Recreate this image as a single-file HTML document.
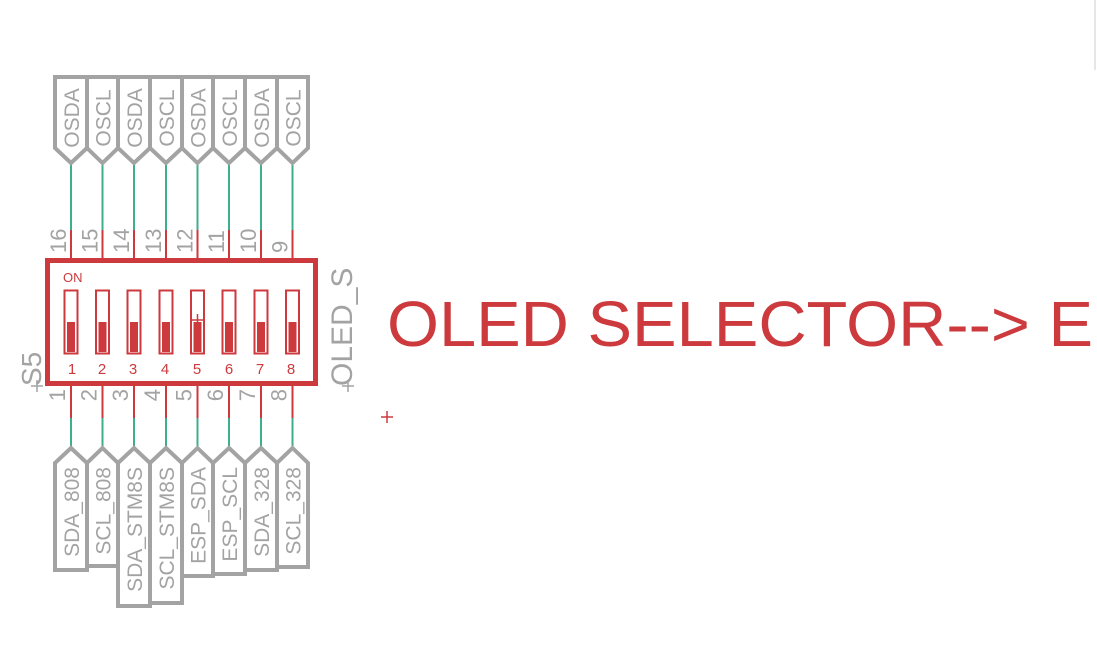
<!DOCTYPE html>
<html><head><meta charset="utf-8"><style>
html,body{margin:0;padding:0;background:#fff;}
svg{display:block;font-family:"Liberation Sans",sans-serif;}
.lb{fill:#fff;stroke:#a3a3a3;stroke-width:4;stroke-linejoin:miter}
.lt{fill:#a3a3a3;font-size:21px}
.g{stroke:#3fae8c;stroke-width:2}
.r{stroke:#cc3a3d;stroke-width:2}
.n{fill:#a3a3a3;font-size:22px}
.sw{fill:none;stroke:#cc3a3d;stroke-width:2}
.sf{fill:#cc3a3d}
.sn{fill:#cc3a3d;font-size:15px;text-anchor:middle}
</style></head><body>
<svg width="1097" height="670" viewBox="0 0 1097 670">
<line x1="1095" y1="0" x2="1095" y2="70" stroke="#ccc" stroke-width="1"/>
<g>
<line class="g" x1="71" y1="163" x2="71" y2="230"/><line class="r" x1="71" y1="230" x2="71" y2="259"/>
<line class="g" x1="102.5" y1="163" x2="102.5" y2="230"/><line class="r" x1="102.5" y1="230" x2="102.5" y2="259"/>
<line class="g" x1="134" y1="163" x2="134" y2="230"/><line class="r" x1="134" y1="230" x2="134" y2="259"/>
<line class="g" x1="166" y1="163" x2="166" y2="230"/><line class="r" x1="166" y1="230" x2="166" y2="259"/>
<line class="g" x1="197.5" y1="163" x2="197.5" y2="230"/><line class="r" x1="197.5" y1="230" x2="197.5" y2="259"/>
<line class="g" x1="229" y1="163" x2="229" y2="230"/><line class="r" x1="229" y1="230" x2="229" y2="259"/>
<line class="g" x1="261" y1="163" x2="261" y2="230"/><line class="r" x1="261" y1="230" x2="261" y2="259"/>
<line class="g" x1="292.5" y1="163" x2="292.5" y2="230"/><line class="r" x1="292.5" y1="230" x2="292.5" y2="259"/>

<line class="r" x1="71" y1="385" x2="71" y2="418"/><line class="g" x1="71" y1="418" x2="71" y2="450"/>
<line class="r" x1="102.5" y1="385" x2="102.5" y2="418"/><line class="g" x1="102.5" y1="418" x2="102.5" y2="450"/>
<line class="r" x1="134" y1="385" x2="134" y2="418"/><line class="g" x1="134" y1="418" x2="134" y2="450"/>
<line class="r" x1="166" y1="385" x2="166" y2="418"/><line class="g" x1="166" y1="418" x2="166" y2="450"/>
<line class="r" x1="197.5" y1="385" x2="197.5" y2="418"/><line class="g" x1="197.5" y1="418" x2="197.5" y2="450"/>
<line class="r" x1="229" y1="385" x2="229" y2="418"/><line class="g" x1="229" y1="418" x2="229" y2="450"/>
<line class="r" x1="261" y1="385" x2="261" y2="418"/><line class="g" x1="261" y1="418" x2="261" y2="450"/>
<line class="r" x1="292.5" y1="385" x2="292.5" y2="418"/><line class="g" x1="292.5" y1="418" x2="292.5" y2="450"/>
</g>
<g>
<polygon class="lb" points="55,77 87,77 87,148 71,163 55,148"/>
<polygon class="lb" points="87,77 118,77 118,148 102.5,163 87,148"/>
<polygon class="lb" points="118,77 150,77 150,148 134,163 118,148"/>
<polygon class="lb" points="150,77 182,77 182,148 166,163 150,148"/>
<polygon class="lb" points="182,77 213,77 213,148 197.5,163 182,148"/>
<polygon class="lb" points="213,77 245,77 245,148 229,163 213,148"/>
<polygon class="lb" points="245,77 277,77 277,148 261,163 245,148"/>
<polygon class="lb" points="277,77 308,77 308,148 292.5,163 277,148"/>
</g>
<g class="lt" text-anchor="middle">
<text transform="translate(79,118) rotate(-90)">OSDA</text>
<text transform="translate(110.5,118) rotate(-90)">OSCL</text>
<text transform="translate(142,118) rotate(-90)">OSDA</text>
<text transform="translate(174,118) rotate(-90)">OSCL</text>
<text transform="translate(205.5,118) rotate(-90)">OSDA</text>
<text transform="translate(237,118) rotate(-90)">OSCL</text>
<text transform="translate(269,118) rotate(-90)">OSDA</text>
<text transform="translate(300.5,118) rotate(-90)">OSCL</text>
</g>
<g>
<polygon class="lb" points="71,448 87,463 87,570 55,570 55,463"/>
<polygon class="lb" points="102.5,448 118,463 118,566 87,566 87,463"/>
<polygon class="lb" points="134,448 150,463 150,606 118,606 118,463"/>
<polygon class="lb" points="166,448 182,463 182,603 150,603 150,463"/>
<polygon class="lb" points="197.5,448 213,463 213,576 182,576 182,463"/>
<polygon class="lb" points="229,448 245,463 245,574 213,574 213,463"/>
<polygon class="lb" points="261,448 277,463 277,570 245,570 245,463"/>
<polygon class="lb" points="292.5,448 308,463 308,567 277,567 277,463"/>
</g>
<g class="lt" text-anchor="end">
<text transform="translate(79,467) rotate(-90)">SDA_808</text>
<text transform="translate(110.5,467) rotate(-90)">SCL_808</text>
<text transform="translate(142,467) rotate(-90)">SDA_STM8S</text>
<text transform="translate(174,467) rotate(-90)">SCL_STM8S</text>
<text transform="translate(205.5,467) rotate(-90)">ESP_SDA</text>
<text transform="translate(237,467) rotate(-90)">ESP_SCL</text>
<text transform="translate(269,467) rotate(-90)">SDA_328</text>
<text transform="translate(300.5,467) rotate(-90)">SCL_328</text>
</g>
<g class="n">
<text transform="translate(66,253) rotate(-90)">16</text>
<text transform="translate(97.5,253) rotate(-90)">15</text>
<text transform="translate(129,253) rotate(-90)">14</text>
<text transform="translate(161,253) rotate(-90)">13</text>
<text transform="translate(192.5,253) rotate(-90)">12</text>
<text transform="translate(224,253) rotate(-90)">11</text>
<text transform="translate(256,253) rotate(-90)">10</text>
<text transform="translate(287.5,253) rotate(-90)">9</text>
</g>
<g class="n" text-anchor="end">
<text transform="translate(65,389) rotate(-90)">1</text>
<text transform="translate(96.5,389) rotate(-90)">2</text>
<text transform="translate(128,389) rotate(-90)">3</text>
<text transform="translate(160,389) rotate(-90)">4</text>
<text transform="translate(191.5,389) rotate(-90)">5</text>
<text transform="translate(223,389) rotate(-90)">6</text>
<text transform="translate(255,389) rotate(-90)">7</text>
<text transform="translate(286.5,389) rotate(-90)">8</text>
</g>
<rect x="47.5" y="260.5" width="268" height="123" fill="none" stroke="#cc3a3d" stroke-width="5"/>
<text x="63" y="282" fill="#cc3a3d" font-size="13">ON</text>
<g>
<rect class="sw" x="64.5" y="290.5" width="13" height="63"/><rect class="sf" x="67" y="322" width="8" height="30"/>
<rect class="sw" x="96" y="290.5" width="13" height="63"/><rect class="sf" x="98.5" y="322" width="8" height="30"/>
<rect class="sw" x="127.5" y="290.5" width="13" height="63"/><rect class="sf" x="130" y="322" width="8" height="30"/>
<rect class="sw" x="159.5" y="290.5" width="13" height="63"/><rect class="sf" x="162" y="322" width="8" height="30"/>
<rect class="sw" x="191" y="290.5" width="13" height="63"/><rect class="sf" x="193.5" y="322" width="8" height="30"/>
<rect class="sw" x="222.5" y="290.5" width="13" height="63"/><rect class="sf" x="225" y="322" width="8" height="30"/>
<rect class="sw" x="254.5" y="290.5" width="13" height="63"/><rect class="sf" x="257" y="322" width="8" height="30"/>
<rect class="sw" x="286" y="290.5" width="13" height="63"/><rect class="sf" x="288.5" y="322" width="8" height="30"/>
</g>
<line x1="197.5" y1="314" x2="197.5" y2="326" stroke="#cc3a3d" stroke-width="1.5"/>
<line x1="192" y1="320" x2="203" y2="320" stroke="#cc3a3d" stroke-width="1.5"/>
<g class="sn">
<text x="72" y="374">1</text><text x="102" y="374">2</text><text x="133" y="374">3</text><text x="165" y="374">4</text>
<text x="197" y="374">5</text><text x="229" y="374">6</text><text x="260" y="374">7</text><text x="291" y="374">8</text>
</g>
<text transform="translate(41,386) rotate(-90)" fill="#a3a3a3" font-size="28">S5</text>
<text transform="translate(352,386) rotate(-90)" fill="#a3a3a3" font-size="30">OLED_S</text>
<g stroke="#a3a3a3" stroke-width="1.5">
<line x1="37" y1="380" x2="37" y2="392"/><line x1="31" y1="386" x2="43" y2="386"/>
<line x1="348" y1="380" x2="348" y2="392"/><line x1="342" y1="386" x2="354" y2="386"/>
</g>
<text x="387" y="346" fill="#cc3a3d" font-size="64" textLength="706" lengthAdjust="spacingAndGlyphs">OLED SELECTOR--&gt; E</text>
<g stroke="#cc3a3d" stroke-width="1.5">
<line x1="387" y1="411" x2="387" y2="423"/><line x1="381" y1="417" x2="393" y2="417"/>
</g>
</svg>
</body></html>
